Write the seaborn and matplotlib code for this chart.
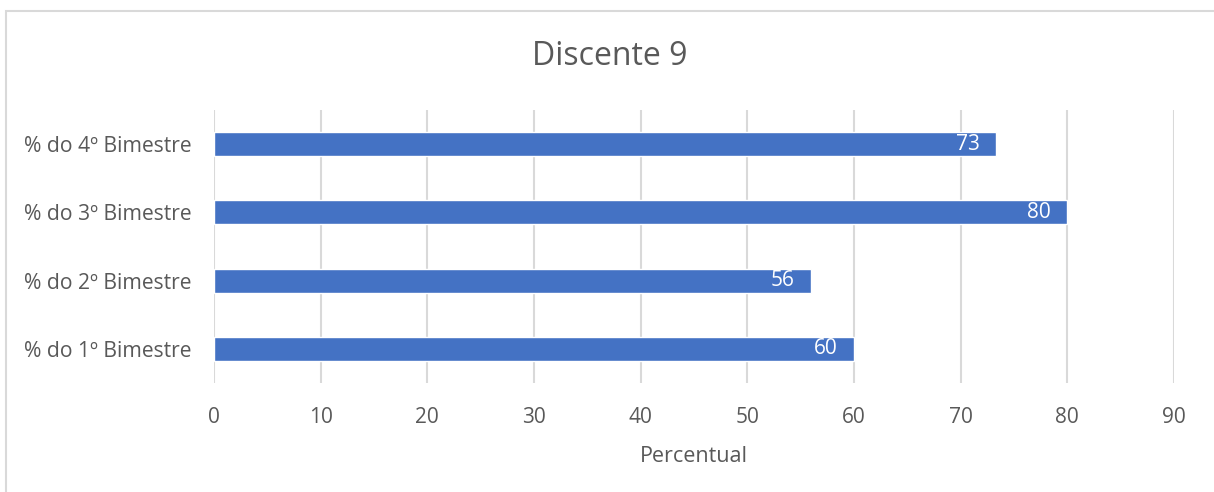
import matplotlib
matplotlib.use("Agg")
import matplotlib.pyplot as plt
from matplotlib.patches import Rectangle
import seaborn as sns
import pandas as pd

categories = ["% do 4º Bimestre", "% do 3º Bimestre", "% do 2º Bimestre", "% do 1º Bimestre"]
values = [73.33, 80.0, 56.0, 60.0]
x_ticks = [0, 10, 20, 30, 40, 50, 60, 70, 80, 90]
title = "Discente 9"
x_label = "Percentual"

bar_color = "#4472C4"
text_color = "#595959"
grid_color = "#D9D9D9"

sns.set_theme(style="white")
plt.rcParams["font.family"] = ["Open Sans", "DejaVu Sans"]

df = pd.DataFrame({"categoria": categories, "valor": values})

fig = plt.figure(figsize=(12.14, 4.92), dpi=100)
ax = fig.add_axes([0.1763, 0.2215, 0.967 - 0.1763, 0.7764 - 0.2215])

sns.barplot(data=df, x="valor", y="categoria", order=categories, orient="h",
            color=bar_color, saturation=1, width=0.35, ax=ax, zorder=3)

ax.set_xlim(0, 90)
ax.set_ylim(3.5, -0.5)
ax.set_xticks(x_ticks)
ax.xaxis.grid(True, color=grid_color, linewidth=1.5, zorder=0)
ax.yaxis.grid(False)
for s in ax.spines.values():
    s.set_visible(False)
ax.tick_params(axis="x", length=0, pad=17, labelsize=15, labelcolor=text_color)
ax.tick_params(axis="y", length=0, pad=16, labelsize=15.2, labelcolor=text_color)
ax.set_ylabel("")
ax.set_xlabel(x_label, fontsize=15.5, color=text_color, labelpad=13)

for patch, v in zip(ax.patches, values):
    y = patch.get_y() + patch.get_height() / 2
    ax.annotate(f"{v:.0f}", xy=(v, y), xytext=(-12, 0), textcoords="offset points",
                ha="right", va="center", color="white", fontsize=15, zorder=4)

fig.text(0.5025, 0.886, title, ha="center", va="center", fontsize=23, color=text_color)

fig.patches.append(Rectangle((6 / 1214, -0.05), 1.1, 0.9776 + 0.05,
                             transform=fig.transFigure, fill=False,
                             edgecolor=grid_color, linewidth=1.5))

fig.savefig("out.png", dpi=100, facecolor="white")
